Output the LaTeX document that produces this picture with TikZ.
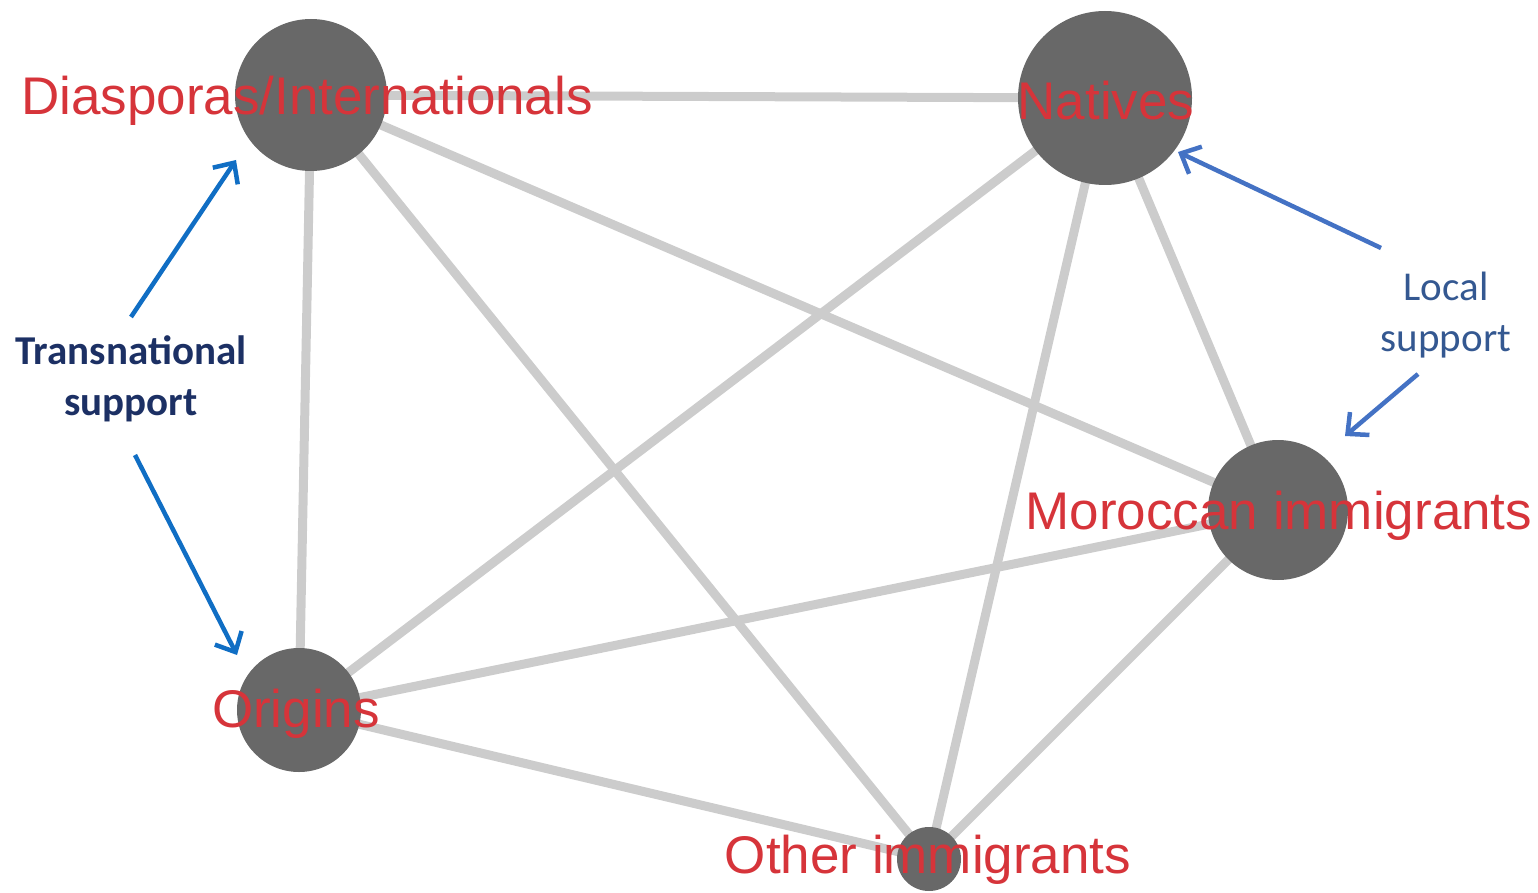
\documentclass[tikz,border=0pt]{standalone}
\usepackage{fontspec}
\setmainfont{Liberation Sans}
\newfontfamily\calibri{Carlito}
\usetikzlibrary{arrows.meta,backgrounds}
\definecolor{edgegray}{RGB}{204,204,204}
\definecolor{nodegray}{RGB}{104,104,104}
\definecolor{labelred}{RGB}{214,52,58}
\definecolor{arrblue}{RGB}{16,110,196}
\definecolor{navy}{RGB}{28,48,100}
\definecolor{localblue}{RGB}{52,88,145}
\definecolor{localarr}{RGB}{68,114,196}
\begin{document}
\begin{tikzpicture}[x=1pt,y=-1pt,
  vert/.style={circle,fill=nodegray,inner sep=0pt,minimum size=#1},
  link/.style={draw=edgegray,line width=9pt},
  lab/.style={text=labelred,font=\fontsize{53}{64}\selectfont,inner sep=0pt},
  supptext/.style={font=\calibri\fontsize{41}{51}\selectfont,align=center,inner sep=0pt},
  supparrow/.style={line width=4.5pt,-{Straight Barb[length=16pt,width=30pt,line width=4.5pt]}}]
\useasboundingbox (0,0) rectangle (1538,893);
% vertices
\node[vert=152pt] (dia) at (311,95) {};
\node[vert=174pt] (nat) at (1105,98) {};
\node[vert=140pt] (mor) at (1278,510) {};
\node[vert=124pt] (ori) at (299,710) {};
\node[vert=64pt]  (oth) at (929,859) {};
% edges
\begin{scope}[on background layer]
\draw[link] (dia.center) -- (nat.center);
\draw[link] (dia.center) -- (ori.center);
\draw[link] (dia.center) -- (mor.center);
\draw[link] (dia.center) -- (oth.center);
\draw[link] (nat.center) -- (ori.center);
\draw[link] (nat.center) -- (mor.center);
\draw[link] (nat.center) -- (oth.center);
\draw[link] (mor.center) -- (ori.center);
\draw[link] (mor.center) -- (oth.center);
\draw[link] (ori.center) -- (oth.center);
\end{scope}
% labels
\node[lab] (diaL) at (307,101) {Diasporas/Internationals};
\node[lab] (natL) at (1106,101) {Natives};
\node[lab] (morL) at (1279,516) {Moroccan immigrants};
\node[lab] (oriL) at (296,714) {Origins};
\node[lab] (othL) at (928,860) {Other immigrants};
% support annotations
\node[supptext,text=navy,font=\calibri\bfseries\fontsize{41}{51}\selectfont] (trans) at (131,379) {Transnational\\support};
\node[supptext,text=localblue] (local) at (1446,315) {Local\\support};
\coordinate (t1s) at (131,317);
\coordinate (t1e) at (236,160);
\coordinate (t2s) at (135,455);
\coordinate (t2e) at (237,655);
\coordinate (l1s) at (1381,248);
\coordinate (l1e) at (1178,152);
\coordinate (l2s) at (1418,374);
\coordinate (l2e) at (1345,436);
\draw[supparrow,draw=arrblue] (t1s) -- (t1e);
\draw[supparrow,draw=arrblue] (t2s) -- (t2e);
\draw[supparrow,draw=localarr] (l1s) -- (l1e);
\draw[supparrow,draw=localarr] (l2s) -- (l2e);
\end{tikzpicture}
\end{document}
